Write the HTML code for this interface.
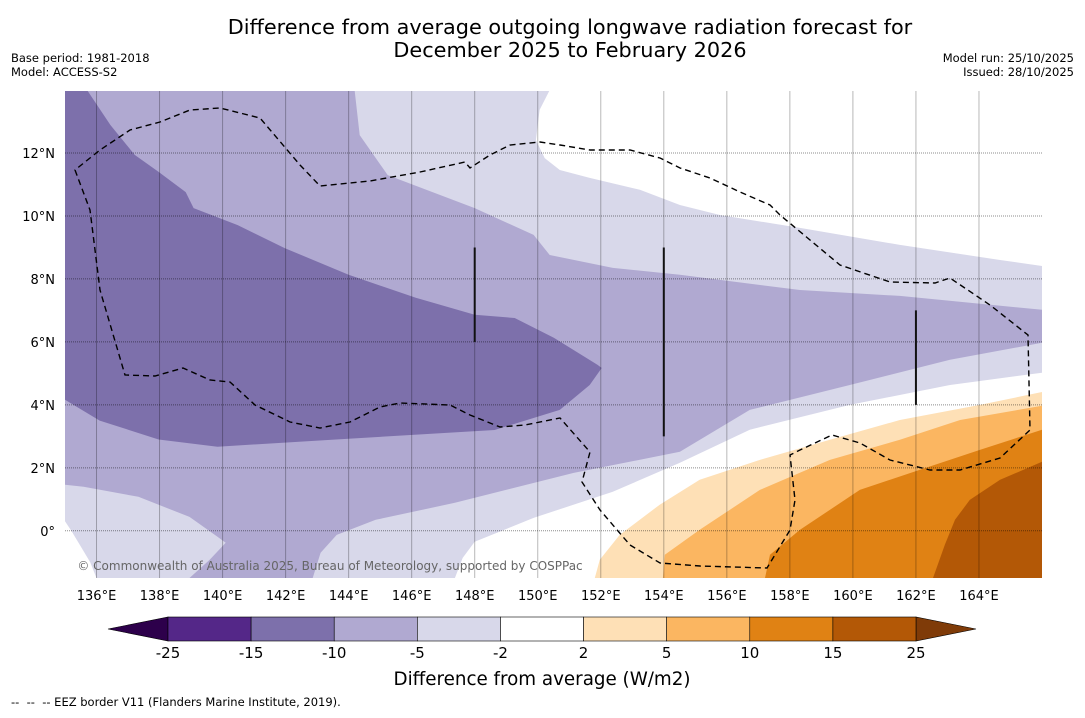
<!DOCTYPE html>
<html><head><meta charset="utf-8">
<style>
body{margin:0;background:#fff;width:1085px;height:713px;overflow:hidden;font-family:"Liberation Sans",sans-serif;}
svg text{font-family:"DejaVu Sans","Liberation Sans",sans-serif;}
</style></head>
<body>
<svg id="chart" width="1085" height="713" viewBox="0 0 1085 713" xmlns="http://www.w3.org/2000/svg">
<text x="570" y="34" font-size="20.8" text-anchor="middle" fill="#000">Difference from average outgoing longwave radiation forecast for</text>
<text x="570" y="57" font-size="20.8" text-anchor="middle" fill="#000">December 2025 to February 2026</text>
<text x="11" y="62" font-size="11.5">Base period: 1981-2018</text>
<text x="11" y="76" font-size="11.5">Model: ACCESS-S2</text>
<text x="1074" y="62" font-size="11.5" text-anchor="end">Model run: 25/10/2025</text>
<text x="1074" y="76" font-size="11.5" text-anchor="end">Issued: 28/10/2025</text>
<defs><clipPath id="mapclip"><rect x="65" y="91" width="977" height="487"/></clipPath></defs>
<g id="map" clip-path="url(#mapclip)"></g>
<g id="axes"></g>
<g id="cbar"></g>
<text x="542" y="685" font-size="18.3" text-anchor="middle">Difference from average (W/m2)</text>
<text x="11" y="706" font-size="11.5" xml:space="preserve">--  --  -- EEZ border V11 (Flanders Marine Institute, 2019).</text>
</svg>
<script>
// ---- data ----
const lonTicks = [136,138,140,142,144,146,148,150,152,154,156,158,160,162,164];
const latTicks = [0,2,4,6,8,10,12];
const levels = [-25,-15,-10,-5,-2,2,5,10,15,25];
const levelColors = ["#542788","#7d70ab","#b0a9d1","#d8d8ea","#ffffff","#fee0b6","#fbb661","#e08214","#b35806"];
const lowExt = "#2d004b", highExt = "#7f3b08";
// contour polygons (lon, lat)
const lightFill = [[135,14],[166,14],[166,-1.5],[135,-1.5]];
const whiteTop = [[150.38,14],[150.06,13.37],[149.94,12.41],[150.22,11.84],[150.70,11.46],[151.65,11.21],[153.24,10.83],[154.51,10.35],[155.78,10.03],[158.32,9.62],[161.49,9.08],[164.67,8.6],[166,8.41],[166,14]];
const whiteBottom = [[147.37,-1.5],[147.62,-0.86],[148,-0.35],[149.87,0.41],[152.38,1.24],[154.51,2.16],[156.73,3.21],[159.9,4.0],[163.08,4.63],[166,5.02],[166,-1.5]];
const whiteCorner = [[135,0.3],[135.2,0],[135.5,-0.5],[135.8,-1.0],[136,-1.5],[135,-1.5]];
const midLavender = [[144.19,14],[144.35,12.57],[145.24,11.30],[148.0,10.25],[149.87,9.40],[150.38,8.76],[152.38,8.35],[154.51,8.13],[158.32,7.65],[161.49,7.46],[166,7.02],[166,5.97],[163.08,5.43],[159.9,4.63],[156.73,3.84],[154.51,2.51],[151.14,1.84],[147.37,0.89],[144.86,0.35],[143.62,-0.13],[143.11,-0.70],[142.86,-1.5],[138.95,-1.5],[139.59,-0.92],[140.10,-0.38],[139.84,-0.19],[138.95,0.44],[137.33,1.08],[135.59,1.40],[135,1.46],[135,14]];
const darkLavender = [[135,14],[135.7,14],[136.44,12.89],[137.21,11.94],[137.97,11.40],[138.83,10.76],[139.08,10.25],[140.48,9.71],[141.97,8.98],[144.0,8.13],[146.13,7.40],[148.0,6.86],[149.27,6.76],[150.51,6.13],[151.90,5.27],[152.03,5.17],[151.65,4.63],[150.70,3.84],[148.63,3.2],[143.6,2.9],[139.84,2.67],[137.97,2.9],[136.1,3.5],[135,4.16]];
const orange2 = [[166,4.41],[164.03,4.0],[161.49,3.52],[159.27,2.89],[157.05,2.25],[155.14,1.62],[153.87,0.83],[152.6,-0.13],[151.97,-0.92],[151.81,-1.5],[166,-1.5]];
const orange5 = [[166,3.97],[163.4,3.52],[161.49,2.89],[159.27,2.25],[157.05,1.30],[155.14,0.03],[154.03,-0.76],[153.97,-1.5],[166,-1.5]];
const orange10 = [[166,3.21],[164.03,2.57],[162.13,1.94],[160.22,1.30],[158.32,0.03],[157.37,-0.76],[157.21,-1.5],[166,-1.5]];
const orange15 = [[166,2.19],[164.67,1.62],[163.71,0.98],[163.24,0.35],[162.92,-0.44],[162.54,-1.5],[166,-1.5]];
const trackLines = [[[148,9],[148,6]],[[154,9],[154,3]],[[162,7],[162,4]]];

// ---- axes ----
const X0=65,X1=1042,Y0=91,Y1=578, LON0=135, LON1=166, LAT0=-1.5, LAT1=13.97;
const xs = lon => X0 + (lon-LON0)/(LON1-LON0)*(X1-X0);
const ys = lat => Y1 - (lat-LAT0)/(LAT1-LAT0)*(Y1-Y0);
const NS="http://www.w3.org/2000/svg";
function mk(tag, attrs, parent){const e=document.createElementNS(NS,tag);for(const k in attrs)e.setAttribute(k,attrs[k]);parent.appendChild(e);return e;}
const map=document.getElementById('map'), axes=document.getElementById('axes'), cbar=document.getElementById('cbar');
function poly(pts, fill, name){
  const p=mk('polygon',{points:pts.map(d=>xs(d[0]).toFixed(1)+','+ys(d[1]).toFixed(1)).join(' '),fill:fill},map);
  
  
}
poly(lightFill,levelColors[3],'contour-minus5-to-minus2');
poly(whiteTop,levelColors[4],'contour-neutral-north');
poly(whiteBottom,levelColors[4],'contour-neutral-south');
poly(whiteCorner,levelColors[4],'contour-neutral-corner');
poly(midLavender,levelColors[2],'contour-minus10-to-minus5');
poly(darkLavender,levelColors[1],'contour-minus15-to-minus10');
poly(orange2,levelColors[5],'contour-2-to-5');
poly(orange5,levelColors[6],'contour-5-to-10');
poly(orange10,levelColors[7],'contour-10-to-15');
poly(orange15,levelColors[8],'contour-15-to-25');

// grid
lonTicks.forEach(l=>{
  const g=mk('line',{x1:xs(l),x2:xs(l),y1:Y0,y2:Y1,stroke:'#000','stroke-opacity':0.28,'stroke-width':1},map);
  
  
  const t=mk('text',{x:xs(l),y:600,'font-size':13,'text-anchor':'middle'},axes);
  t.textContent=l+'°E';
  
  
});
latTicks.forEach(l=>{
  const g=mk('line',{x1:X0,x2:X1,y1:ys(l),y2:ys(l),stroke:'#000','stroke-opacity':0.45,'stroke-width':1,'stroke-dasharray':'1,1'},map);
  
  
  const t=mk('text',{x:55,y:ys(l)+5,'font-size':13,'text-anchor':'end'},axes);
  t.textContent=l===0?'0°':l+'°N';
  
  
});
trackLines.forEach(tl=>{
  const g=mk('line',{x1:xs(tl[0][0]),x2:xs(tl[1][0]),y1:ys(tl[0][1]),y2:ys(tl[1][1]),stroke:'#111','stroke-width':2},map);
  
  
});
// EEZ border (annotation)
const eez=mk('path',{d:'M75,170 L90,210 L100,290 L125,375 L155,376 L183,368 L210,380 L230,382 L255,405 L290,422 L320,428 L350,422 L380,407 L400,403 L450,405 L470,415 L500,427 L525,425 L560,418 L575,435 L590,452 L582,482 L600,510 L630,545 L660,563 L700,566 L767,568 L790,530 L795,500 L790,455 L800,450 L832,435 L860,443 L890,460 L930,470 L960,470 L1000,458 L1030,430 L1028,335 L990,305 L950,278 L935,283 L890,282 L840,265 L810,240 L780,215 L770,205 L740,192 L710,178 L680,168 L660,158 L630,150 L590,150 L560,145 L540,142 L510,145 L490,155 L470,168 L465,162 L420,172 L370,181 L320,186 L300,165 L260,118 L220,108 L190,110 L160,122 L130,130 L100,150 Z',fill:'none',stroke:'#000','stroke-width':1.4,'stroke-dasharray':'6,4'},map);


const cp=mk('text',{x:330,y:570,'font-size':12,'text-anchor':'middle',fill:'#666'},map);
cp.textContent='© Commonwealth of Australia 2025, Bureau of Meteorology, supported by COSPPac';



// colorbar
const CB0=168, CB1=916, CBY=617, CBH=24, n=levelColors.length, w=(CB1-CB0)/n;
const le=mk('polygon',{points:`108,${CBY+CBH/2} ${CB0},${CBY} ${CB0},${CBY+CBH}`,fill:lowExt,stroke:'#000','stroke-width':0.6},cbar);


const he=mk('polygon',{points:`976,${CBY+CBH/2} ${CB1},${CBY} ${CB1},${CBY+CBH}`,fill:highExt,stroke:'#000','stroke-width':0.6},cbar);


levelColors.forEach((c,i)=>{
  const r=mk('rect',{x:CB0+i*w,y:CBY,width:w,height:CBH,fill:c,stroke:'#000','stroke-width':0.6},cbar);
  
  
});
levels.forEach((v,i)=>{
  const t=mk('text',{x:CB0+i*w,y:658,'font-size':15,'text-anchor':'middle'},cbar);
  t.textContent=v;
  
  
});
</script>
</body></html>
